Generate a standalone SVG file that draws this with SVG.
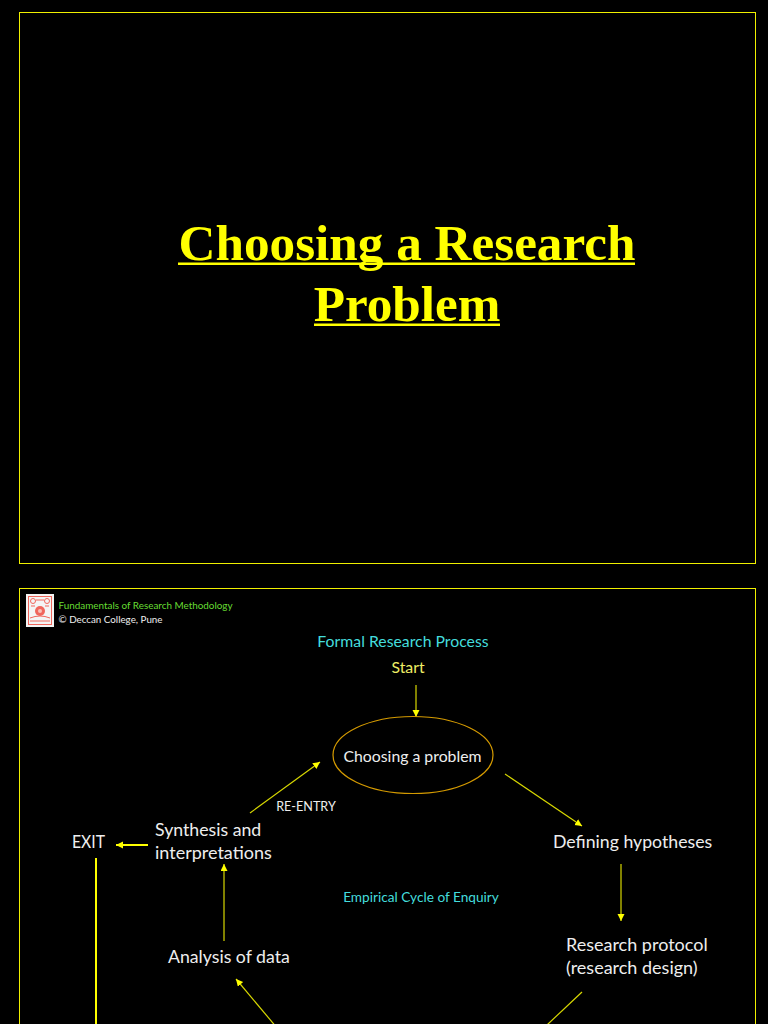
<svg xmlns="http://www.w3.org/2000/svg" width="768" height="1024" viewBox="0 0 768 1024">
<defs>
<marker id="a" markerUnits="userSpaceOnUse" markerWidth="8" markerHeight="8" refX="7" refY="3.5" orient="auto"><path d="M0 0L7 3.5L0 7z" fill="#ffff00"/></marker>
</defs>
<style>
.t{font-family:Lato,"Open Sans",sans-serif;fill:#eeeeee}
.l{font-size:17.700px}
.c{stroke:#d8d800;stroke-width:1.200;fill:none;marker-end:url(#a)}
.p{stroke:#d8d800;stroke-width:1.200;fill:none}
.f{fill:#000;stroke:#f0f000;stroke-width:1}
.r{fill:none;stroke:#f0665c;stroke-width:1}
</style>
<rect width="768" height="1024" fill="#000"/>
<rect class="f" x="19.500" y="12.500" width="736" height="551"/>
<g id="title" font-family="Liberation Serif" font-weight="700" font-size="51.200" fill="#ffff00" text-anchor="middle">
<text x="407" y="260">Choosing a Research</text>
<text x="407" y="321">Problem</text>
<rect x="178" y="262.500" width="457" height="2.500"/>
<rect x="314" y="323.500" width="186" height="2.500"/>
</g>
<rect class="f" x="19.500" y="588.500" width="736" height="460"/>
<g id="logo">
<rect x="26" y="594" width="28" height="33" fill="#f4f4f4"/>
<rect class="r" x="28.500" y="596.500" width="23" height="28"/>
<circle class="r" cx="33" cy="601" r="2.500"/>
<circle class="r" cx="47" cy="601" r="2.500"/>
<circle cx="40" cy="611" r="5" fill="#f0665c"/>
<circle cx="40" cy="611" r="2" fill="#f8c0b8"/>
<path class="r" d="M36 600h8M31 606h4M45 606h4M30 618q10 -4 20 0M30 621h20"/>
</g>
<g id="header">
<text x="58.500" y="609" font-size="9.900" class="t" style="fill:#66dd33">Fundamentals of Research Methodology</text>
<text x="58.500" y="623" font-size="9.800" class="t">© Deccan College, Pune</text>
</g>
<g id="connectors">
<path class="c" d="M416 685V717"/>
<path class="c" d="M505 774L582 826"/>
<path class="c" d="M621 864V921"/>
<path class="p" d="M582 992L530 1041"/>
<path class="c" d="M288 1041L236 979"/>
<path class="c" d="M224 941V864"/>
<path class="c" d="M250 813L320 762"/>
<path d="M148 845H116" stroke="#ffff00" stroke-width="2" fill="none" marker-end="url(#a)"/>
<path d="M96 858V1024" stroke="#ffff00" stroke-width="2" fill="none"/>
</g>
<g id="formal"><text class="t" x="403" y="647" font-size="15.800" text-anchor="middle" style="fill:#44dddd">Formal Research Process</text></g>
<g id="start"><text class="t" x="408" y="673" font-size="15.800" text-anchor="middle" style="fill:#eeee66">Start</text></g>
<g id="choosing"><ellipse cx="413" cy="755" rx="80" ry="38.500" fill="none" stroke="#d49a00" stroke-width="1.200"/><text class="t" x="412.500" y="762" font-size="15.800" text-anchor="middle">Choosing a problem</text></g>
<g id="reentry"><text class="t" x="306" y="811" font-size="12.600" text-anchor="middle">RE-ENTRY</text></g>
<g id="exit"><text class="t l" x="72" y="848" textLength="33" lengthAdjust="spacingAndGlyphs">EXIT</text></g>
<g id="synthesis"><text class="t l" x="155" y="836">Synthesis and</text><text class="t" font-size="18" x="155" y="859">interpretations</text></g>
<g id="defining"><text class="t l" x="553" y="848">Defining hypotheses</text></g>
<g id="cycle"><text class="t" x="421" y="902" font-size="13.650" text-anchor="middle" style="fill:#44dddd">Empirical Cycle of Enquiry</text></g>
<g id="protocol"><text class="t" font-size="18" x="566" y="951">Research protocol</text><text class="t" font-size="18" x="566" y="974">(research design)</text></g>
<g id="analysis"><text class="t l" x="168" y="963">Analysis of data</text></g>
</svg>
